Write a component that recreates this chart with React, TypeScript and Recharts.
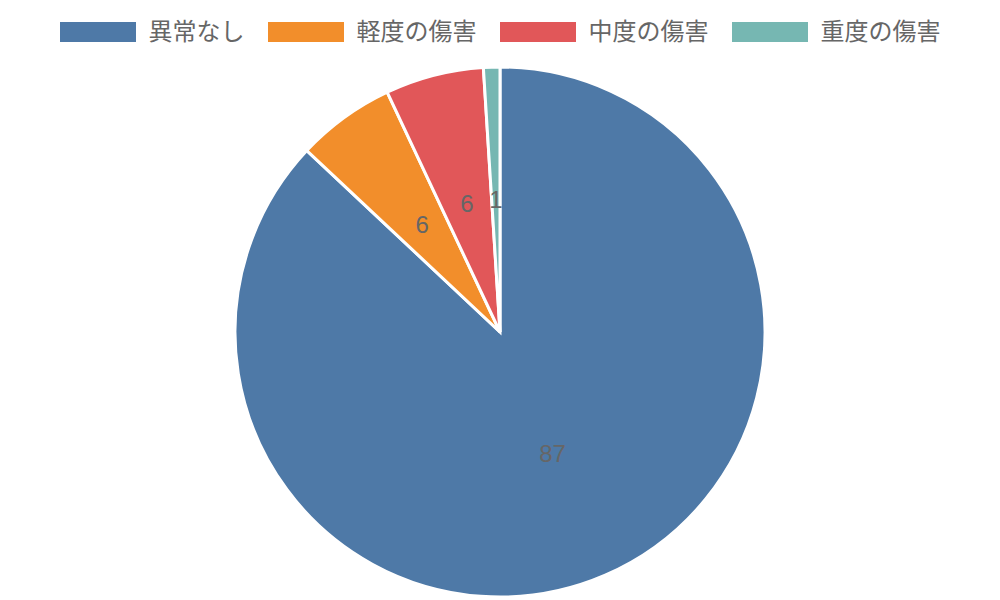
import { PieChart, Pie, Cell } from 'recharts';

const categories = ['異常なし', '軽度の傷害', '中度の傷害', '重度の傷害'];
const values = [87, 6, 6, 1];
const colors = ['#4e79a7', '#f28e2b', '#e15759', '#76b7b2'];

const FONT = '"Liberation Sans", Arial, "Noto Sans CJK JP", sans-serif';
const RADIAN = Math.PI / 180;

const chartData = categories.map((name, i) => ({ name, value: values[i] }));

function renderLabel(props: any) {
  const { cx, cy, midAngle, outerRadius, value } = props;
  const r = outerRadius / 2;
  const x = cx + r * Math.cos(-midAngle * RADIAN);
  const y = cy + r * Math.sin(-midAngle * RADIAN);
  return (
    <text
      x={x}
      y={y}
      fill="#666"
      fontSize={24}
      fontFamily={FONT}
      textAnchor="middle"
      dominantBaseline="central"
    >
      {value}
    </text>
  );
}

export default function App() {
  return (
    <div style={{ position: 'absolute', left: 0, top: 0, width: 1000, height: 600, background: '#fff' }}>
      <div
        style={{
          position: 'absolute',
          top: 20,
          left: 0,
          width: 1000,
          height: 24,
          display: 'flex',
          justifyContent: 'center',
          alignItems: 'center',
          fontFamily: FONT,
          fontSize: 24,
          color: '#666',
        }}
      >
        {categories.map((name, i) => (
          <div
            key={name}
            style={{ display: 'flex', alignItems: 'center', marginLeft: i === 0 ? 0 : 23 }}
          >
            <span style={{ display: 'inline-block', width: 76, height: 20, background: colors[i], marginRight: 13 }} />
            <span style={{ lineHeight: '24px' }}>{name}</span>
          </div>
        ))}
      </div>
      <PieChart width={1000} height={600} margin={{ top: 0, right: 0, bottom: 0, left: 0 }}>
        <Pie
          data={chartData}
          dataKey="value"
          nameKey="name"
          cx={500}
          cy={332}
          outerRadius={265}
          startAngle={90}
          endAngle={-270}
          stroke="#fff"
          strokeWidth={3}
          label={renderLabel}
          labelLine={false}
          isAnimationActive={false}
        >
          {chartData.map((d, i) => (
            <Cell key={d.name} fill={colors[i]} />
          ))}
        </Pie>
      </PieChart>
    </div>
  );
}
